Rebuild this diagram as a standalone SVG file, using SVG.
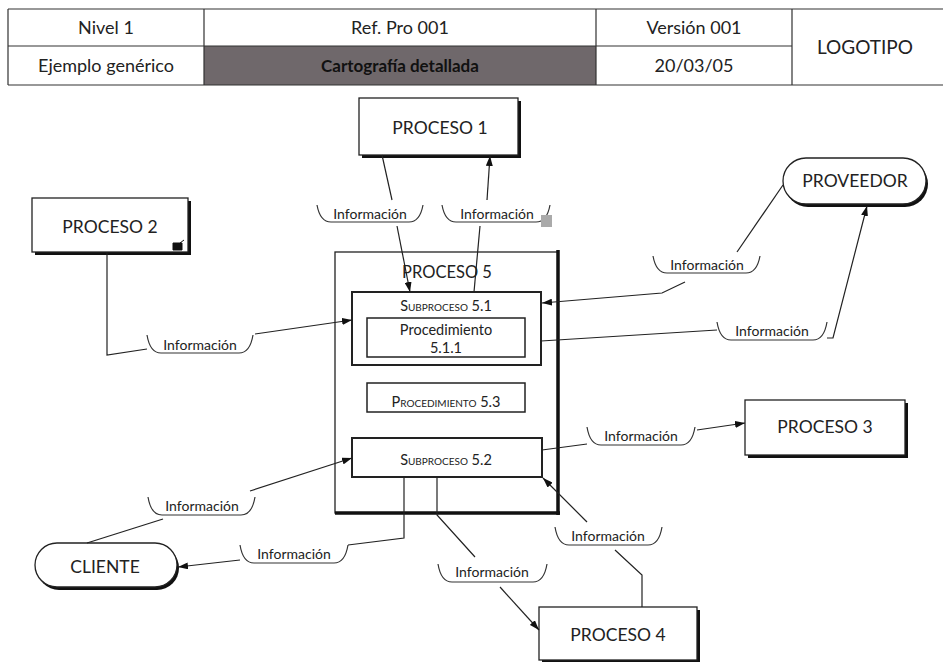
<svg xmlns="http://www.w3.org/2000/svg" width="943" height="662" viewBox="0 0 943 662">
<defs>
<marker id="arr" viewBox="0 0 10 7" refX="10" refY="3.5" markerWidth="10" markerHeight="7" markerUnits="userSpaceOnUse" orient="auto">
<path d="M0,0 L10,3.5 L0,7 z" fill="#111"/>
</marker>
<style>
text{font-family:Lato,"Open Sans","Liberation Sans",sans-serif;fill:#222;text-anchor:middle}
.hd{font-size:18px}
.pr{font-size:17.5px}
.lb{font-size:14px}
.sc{font-size:14.5px;font-variant:small-caps}
.pc{font-size:14.5px}
.box{fill:#fff;stroke:#222;stroke-width:1.3}
.sh{fill:#111}
.bk{fill:none;stroke:#333;stroke-width:1.2}
.cn{fill:none;stroke:#222;stroke-width:1.2}
.grid{stroke:#333;stroke-width:1.2;fill:none}
</style>
</defs>
<rect width="943" height="662" fill="#fff"/>

<g id="header">
<rect x="204" y="46" width="392" height="39" fill="#6f686b"/>
<path class="grid" d="M8,9 H943 M8,46 H792 M8,85 H943 M8,9 V85 M204,9 V85 M596,9 V85 M792,9 V85"/>
<text class="hd" x="106" y="34">Nivel 1</text>
<text class="hd" x="400" y="34">Ref. Pro 001</text>
<text class="hd" x="694" y="34">Versión 001</text>
<text class="hd" x="865" y="54" style="font-size:19px">LOGOTIPO</text>
<text class="hd" x="106" y="72">Ejemplo genérico</text>
<text class="hd" x="400" y="72" style="font-weight:bold;fill:#111;font-size:17px">Cartografía detallada</text>
<text class="hd" x="694" y="72">20/03/05</text>
</g>

<g id="proceso1">
<rect class="sh" x="362" y="101" width="159" height="57"/>
<rect class="box" x="359" y="98" width="159" height="57"/>
<text class="pr" x="440" y="134">PROCESO 1</text>
</g>

<g id="proceso2">
<rect class="sh" x="35" y="201" width="156" height="54"/>
<rect class="box" x="32" y="198" width="156" height="54"/>
<text class="pr" x="110" y="233">PROCESO 2</text>
<path d="M173,243 H182 V250 H173 z M180,243 L184,240" fill="#111" stroke="#111" stroke-width="1"/>
</g>

<g id="proveedor">
<rect class="sh" x="785" y="161" width="143" height="46" rx="23"/>
<rect class="box" x="783" y="158" width="143" height="46" rx="23"/>
<text class="pr" x="855" y="187">PROVEEDOR</text>
</g>

<g id="proceso5">
<rect class="box" x="335" y="252" width="223" height="261"/>
<path d="M558,250 V515 M335,513 H560" stroke="#111" stroke-width="3.5" fill="none"/>
<text class="pr" x="447" y="278" style="font-size:16.5px">PROCESO 5</text>
</g>

<g id="subproceso51">
<rect x="352" y="292" width="189" height="73" fill="#fff" stroke="#222" stroke-width="2"/>
<text class="sc" x="446" y="311">Subproceso 5.1</text>
</g>

<g id="procedimiento511">
<rect x="367" y="318" width="158" height="39" fill="#fff" stroke="#222" stroke-width="1.5"/>
<text class="pc" x="446" y="335">Procedimiento</text>
<text class="pc" x="446" y="353">5.1.1</text>
</g>

<g id="procedimiento53">
<rect x="367" y="383" width="158" height="29" fill="#fff" stroke="#222" stroke-width="1.5"/>
<text class="sc" x="446" y="407">Procedimiento 5.3</text>
</g>

<g id="subproceso52">
<rect x="352" y="438" width="190" height="39" fill="#fff" stroke="#222" stroke-width="2"/>
<text class="sc" x="446" y="465">Subproceso 5.2</text>
</g>

<g id="proceso3">
<rect class="sh" x="748" y="403" width="160" height="55"/>
<rect class="box" x="745" y="400" width="160" height="55"/>
<text class="pr" x="825" y="433">PROCESO 3</text>
</g>

<g id="cliente">
<rect class="sh" x="37" y="546" width="142" height="44" rx="22"/>
<rect class="box" x="35" y="543" width="142" height="44" rx="22"/>
<text class="pr" x="105" y="573">CLIENTE</text>
</g>

<g id="proceso4">
<rect class="sh" x="542" y="610" width="158" height="53"/>
<rect class="box" x="539" y="607" width="158" height="53"/>
<text class="pr" x="618" y="641">PROCESO 4</text>
</g>

<g id="connectors">
<path class="cn" d="M382,155 L392,200"/>
<path class="cn" d="M397,226 L410,292" marker-end="url(#arr)"/>
<path class="cn" d="M474,292 L480,226"/>
<path class="cn" d="M487,200 L490,156" marker-end="url(#arr)"/>
<path class="cn" d="M107,252 V355 L147,349"/>
<path class="cn" d="M255,334 L352,320" marker-end="url(#arr)"/>
<path class="cn" d="M783,185 L737,252"/>
<path class="cn" d="M685,282 L662,293 L542,303" marker-end="url(#arr)"/>
<path class="cn" d="M541,341 L717,330"/>
<path class="cn" d="M827,338 L833,338 L867,206" marker-end="url(#arr)"/>
<path class="cn" d="M542,450 L587,444"/>
<path class="cn" d="M697,430 L745,423" marker-end="url(#arr)"/>
<path class="cn" d="M87,543 L163,519"/>
<path class="cn" d="M250,491 L352,458" marker-end="url(#arr)"/>
<path class="cn" d="M404,477 V538 L348,545"/>
<path class="cn" d="M240,560 L178,567" marker-end="url(#arr)"/>
<path class="cn" d="M437,477 V515 L475,557"/>
<path class="cn" d="M500,587 L539,630" marker-end="url(#arr)"/>
<path class="cn" d="M642,607 V575 L615,550"/>
<path class="cn" d="M587,522 L543,478" marker-end="url(#arr)"/>
</g>

<g id="labels">
<path class="bk" d="M317,205 C319,216 323,222 331,222 H409 C417,222 421,216 423,205"/>
<text class="lb" x="370" y="219">Información</text>
<path class="bk" d="M442,205 C444,216 448,222 456,222 H536 C544,222 548,216 550,205"/>
<text class="lb" x="497" y="219">Información</text>
<rect x="541" y="215" width="11" height="12" fill="#aaa"/>
<path class="bk" d="M147,335 C149,347 153,353 161,353 H239 C247,353 251,347 253,335"/>
<text class="lb" x="200" y="350">Información</text>
<path class="bk" d="M653,256 C655,267 659,273 667,273 H746 C754,273 758,267 760,256"/>
<text class="lb" x="707" y="270">Información</text>
<path class="bk" d="M717,322 C719,334 723,340 731,340 H813 C821,340 825,334 827,322"/>
<text class="lb" x="772" y="336">Información</text>
<path class="bk" d="M587,427 C589,439 593,445 601,445 H681 C689,445 693,439 695,427"/>
<text class="lb" x="641" y="441">Información</text>
<path class="bk" d="M148,497 C150,509 154,515 162,515 H241 C249,515 253,509 255,497"/>
<text class="lb" x="202" y="511">Información</text>
<path class="bk" d="M240,545 C242,557 246,563 254,563 H334 C342,563 346,557 348,545"/>
<text class="lb" x="294" y="559">Información</text>
<path class="bk" d="M438,564 C440,576 444,582 452,582 H533 C541,582 545,576 547,564"/>
<text class="lb" x="492" y="577">Información</text>
<path class="bk" d="M555,527 C557,539 561,545 569,545 H648 C656,545 660,539 662,527"/>
<text class="lb" x="608" y="541">Información</text>
</g>
</svg>
